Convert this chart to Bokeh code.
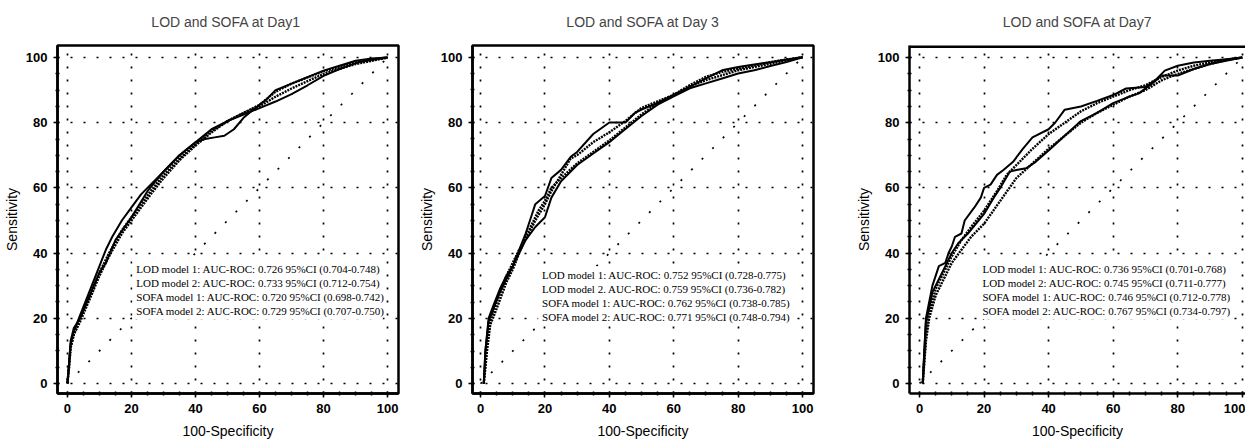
from bokeh.plotting import figure
from bokeh.layouts import row
from bokeh.models import Range1d, FixedTicker, Span
from bokeh.core.properties import value
from bokeh.embed import file_html
from bokeh.resources import INLINE

# ---------------- data ----------------
TITLES = ["LOD and SOFA at  Day1", "LOD and SOFA at Day 3", "LOD and SOFA at Day7"]
TICKS = [0, 20, 40, 60, 80, 100]
DIAG = [0, 100]

# Day 1
D1_LOD1_X = [0, 0.5, 1, 2, 4, 6, 8, 10, 12, 14, 17, 20, 23, 26, 30, 35, 40, 45, 50, 55, 60, 65, 70, 75, 80, 85, 90, 95, 100]
D1_LOD1_Y = [0, 6, 12, 16, 21, 26, 31, 36, 41, 45, 50, 54, 58, 61, 65, 70, 74, 78, 80.5, 82.5, 84.5, 86.5, 88.8, 91.5, 94.4, 96.5, 98.3, 99.5, 100]
D1_LOD2_X = [0, 0.5, 1, 2, 4, 7, 10, 12, 15, 20, 25, 30, 35, 40, 43, 46, 49, 52, 55, 58, 62, 65, 70, 75, 80, 85, 90, 95, 100]
D1_LOD2_Y = [0, 6, 13, 17, 20, 27, 34, 37, 44, 51, 59, 65, 70, 74, 75, 75.5, 76, 78, 81.5, 84, 87, 90, 92, 94, 96, 97.5, 99, 99.7, 100]
D1_SOFA1_X = [0, 0.5, 1, 2, 4, 7, 10, 13, 17, 20, 26, 30, 35, 40, 45, 50, 55, 60, 65, 70, 80, 90, 100]
D1_SOFA1_Y = [0, 5, 11, 15, 20, 27, 34, 40, 47, 51, 59, 64, 69, 73.5, 77.5, 80.5, 83, 85.5, 89.5, 92, 95.8, 98.5, 100]
D1_SOFA2_X = [0, 0.5, 1, 2, 4, 7, 10, 13, 17, 20, 26, 30, 35, 40, 45, 50, 55, 60, 65, 70, 80, 90, 100]
D1_SOFA2_Y = [0, 5, 11, 15, 19, 26, 33, 39, 46, 50, 58, 63, 68.5, 73, 77, 80.5, 83, 85, 88, 90.5, 95, 98, 100]

# Day 3
D3_LOD1_X = [1, 1.5, 2.5, 4, 6, 8, 10, 12, 14, 16, 17, 20, 22, 25, 28, 30, 35, 40, 45, 48, 50, 55, 60, 65, 70, 75, 80, 85, 90, 95, 100]
D3_LOD1_Y = [0, 10, 20, 24, 29, 33, 36, 41, 46, 52, 55, 57.5, 63, 65.5, 69.5, 71, 76.5, 80, 80, 83, 84, 86, 88.5, 91, 93.5, 96, 97, 97.8, 98.5, 99.3, 100]
D3_LOD2_X = [1, 1.5, 2.5, 4, 6, 8, 10, 12, 14, 17, 20, 22, 25, 30, 35, 40, 45, 50, 55, 60, 65, 70, 75, 80, 85, 90, 95, 100]
D3_LOD2_Y = [0, 10, 19, 23, 28, 32, 36, 40, 44, 48, 51, 57, 62, 67, 70.5, 74, 78, 82, 85.5, 88, 90.5, 92, 93.5, 95, 96, 97.3, 98.5, 100]
D3_SOFA1_X = [1, 2, 3, 5, 8, 10, 12, 14, 16, 18, 20, 22, 25, 30, 35, 40, 45, 50, 55, 60, 65, 70, 75, 80, 85, 90, 95, 100]
D3_SOFA1_Y = [0, 10, 18, 23, 31, 35, 40, 45, 49, 53, 56, 60, 63, 67.5, 71, 74.5, 78.5, 82.5, 86, 88.5, 91, 93, 94.5, 96, 97, 98, 99, 100]
D3_SOFA2_X = [1, 2, 3, 5, 8, 10, 12, 15, 17, 20, 22, 25, 28, 30, 35, 40, 45, 50, 55, 60, 65, 70, 75, 80, 85, 90, 95, 100]
D3_SOFA2_Y = [0, 12, 19, 25, 33, 37, 41, 46, 50, 55, 59, 64, 69, 70, 74, 77, 80.5, 84.5, 86.5, 88.5, 91.5, 94, 95.5, 96.5, 97.5, 98.5, 99.3, 100]

# Day 7
D7_LOD1_X = [1, 1.5, 2, 3, 4, 5, 6, 8, 9, 10, 11, 13, 14, 17, 19, 20, 22, 24, 26, 29, 32, 35, 40, 42, 45, 50, 55, 60, 64, 70, 73, 76, 80, 85, 90, 95, 100]
D7_LOD1_Y = [0, 10, 20, 25, 30, 33, 36, 37, 40, 42, 45, 46, 50, 54, 57, 60, 61, 64, 65.5, 68, 72, 75.5, 78, 80, 84, 85, 86.7, 88.5, 90.5, 91, 93, 96, 97.5, 98.5, 99, 99.5, 100]
D7_LOD2_X = [1, 1.5, 2, 3, 4, 6, 8, 10, 12, 15, 20, 23, 25, 28, 30, 33, 36, 40, 45, 50, 55, 60, 65, 68, 72, 75, 80, 85, 90, 95, 100]
D7_LOD2_Y = [0, 10, 19, 23, 28, 32, 36, 40, 43, 46, 52, 57, 60, 65, 65.5, 66, 68, 71.5, 76, 80.5, 83, 86, 88, 89, 92, 94.5, 94.5, 96.5, 98, 99, 100]
D7_SOFA1_X = [1, 2, 3, 5, 8, 10, 13, 16, 20, 24, 27, 30, 35, 40, 45, 50, 55, 60, 65, 70, 75, 80, 85, 90, 95, 100]
D7_SOFA1_Y = [0, 15, 22, 29, 35, 39, 44, 48, 53, 59, 64, 67, 72, 76.5, 80, 83.5, 86, 88, 90, 91.5, 94, 96, 97.5, 98.5, 99.3, 100]
D7_SOFA2_X = [1, 2, 3, 5, 8, 10, 13, 16, 20, 25, 30, 35, 40, 45, 50, 55, 60, 65, 70, 75, 80, 85, 90, 95, 100]
D7_SOFA2_Y = [0, 13, 20, 27, 33, 37, 41, 45, 49, 56, 63, 67.5, 72, 76, 80, 83, 85.5, 88, 90, 93, 95, 96.5, 98, 99.3, 100]

D1_TEXT = ["LOD model 1: AUC-ROC: 0.726 95%CI (0.704-0.748)",
           "LOD model 2: AUC-ROC: 0.733 95%CI (0.712-0.754)",
           "SOFA model 1: AUC-ROC: 0.720 95%CI (0.698-0.742)",
           "SOFA model 2: AUC-ROC: 0.729 95%CI (0.707-0.750)"]
D3_TEXT = ["LOD model 1: AUC-ROC: 0.752 95%CI (0.728-0.775)",
           "LOD model 2. AUC-ROC: 0.759 95%CI (0.736-0.782)",
           "SOFA model 1: AUC-ROC: 0.762 95%CI (0.738-0.785)",
           "SOFA model 2: AUC-ROC: 0.771 95%CI (0.748-0.794)"]
D7_TEXT = ["LOD model 1: AUC-ROC: 0.736 95%CI (0.701-0.768)",
           "LOD model 2: AUC-ROC: 0.745 95%CI (0.711-0.777)",
           "SOFA model 1: AUC-ROC: 0.746 95%CI (0.712-0.778)",
           "SOFA model 2: AUC-ROC: 0.767 95%CI (0.734-0.797)"]

PANELS = [
    dict(title=TITLES[0], lod=[(D1_LOD1_X, D1_LOD1_Y), (D1_LOD2_X, D1_LOD2_Y)],
         sofa=[(D1_SOFA1_X, D1_SOFA1_Y), (D1_SOFA2_X, D1_SOFA2_Y)], text=D1_TEXT,
         xr=(-3.1, 103.4), yr=(-3.1, 103.7), mb=(57, 17, 45, 51), tx=21.5, ty=35.2, tw=77, open_right=False),
    dict(title=TITLES[1], lod=[(D3_LOD1_X, D3_LOD1_Y), (D3_LOD2_X, D3_LOD2_Y)],
         sofa=[(D3_SOFA1_X, D3_SOFA1_Y), (D3_SOFA2_X, D3_SOFA2_Y)], text=D3_TEXT,
         xr=(-2.5, 103.4), yr=(-3.0, 103.6), mb=(55, 17, 45, 48), tx=19.1, ty=33.4, tw=77, open_right=False),
    dict(title=TITLES[2], lod=[(D7_LOD1_X, D7_LOD1_Y), (D7_LOD2_X, D7_LOD2_Y)],
         sofa=[(D7_SOFA1_X, D7_SOFA1_Y), (D7_SOFA2_X, D7_SOFA2_Y)], text=D7_TEXT,
         xr=(-3.1, 101.0), yr=(-3.1, 103.7), mb=(79, 0, 45, 51), tx=19.5, ty=35.2, tw=77, open_right=True),
]

SANS = "Liberation Sans"
SERIF = "Liberation Serif"
LINE_DY = 4.3

figs = []
for pan in PANELS:
    l, r, t, b = pan["mb"]
    p = figure(width=415, height=444, output_backend="svg", toolbar_location=None,
               x_range=Range1d(*pan["xr"]), y_range=Range1d(*pan["yr"]),
               min_border_left=l, min_border_right=r, min_border_top=t, min_border_bottom=b,
               title=pan["title"])
    p.title.align = "center"
    p.title.vertical_align = "top"
    p.title.text_font = SANS
    p.title.text_font_size = "14px"
    p.title.text_font_style = "normal"
    p.title.standoff = 27
    p.background_fill_color = "white"
    p.border_fill_color = "white"
    if pan["open_right"]:
        # the original is cropped at the right edge: no right-hand frame line
        p.outline_line_color = None
        p.add_layout(Span(location=pan["yr"][1], dimension="width",
                          line_color="black", line_width=5))
    else:
        p.outline_line_color = "black"
        p.outline_line_width = 2.5
        p.outline_line_alpha = 1

    xa = p.below[0]
    ya = p.left[0]
    for ax in (xa, ya):
        ax.ticker = FixedTicker(ticks=TICKS, minor_ticks=list(range(0, 101, 5)))
        ax.axis_line_width = 2.5
        ax.axis_line_color = "black"
        ax.major_tick_in = 0
        ax.major_tick_out = 4
        ax.major_tick_line_width = 1.5
        ax.minor_tick_in = 2
        ax.minor_tick_out = 2
        ax.minor_tick_line_width = 1.5
        ax.major_label_text_font = SANS
        ax.major_label_text_font_size = "13px"
        ax.major_label_text_font_style = "bold"
        ax.major_label_text_color = "black"
        ax.axis_label_text_font = SANS
        ax.axis_label_text_font_size = "14px"
        ax.axis_label_text_font_style = "normal"
        ax.axis_label_text_color = "black"
        ax.major_label_standoff = 6
    xa.axis_label = "100-Specificity"
    ya.axis_label = "Sensitivity"
    xa.axis_label_standoff = 7
    ya.axis_label_standoff = 3

    for g in (p.xgrid[0], p.ygrid[0]):
        g.ticker = FixedTicker(ticks=TICKS)
        g.grid_line_color = "black"
        g.grid_line_width = 1.7
        g.grid_line_dash = "2 11"
        g.grid_line_alpha = 1

    p.line(DIAG, DIAG, line_color="black", line_width=1.7, line_dash="2 13")

    # white box behind the AUC annotations (hides grid and diagonal, as in the original)
    n = len(pan["text"])
    box_top = pan["ty"] + 2.6
    box_bottom = pan["ty"] - (n - 1) * LINE_DY - 2.6
    p.quad(left=[pan["tx"] - 1.2], right=[pan["tx"] + pan["tw"]], top=[box_top], bottom=[box_bottom],
           fill_color="white", line_color=None)

    for xs, ys in pan["sofa"]:
        p.line(xs, ys, line_color="black", line_width=2.4, line_dash="2 1")
    for xs, ys in pan["lod"]:
        p.line(xs, ys, line_color="black", line_width=2)

    p.text(x=[pan["tx"]] * n, y=[pan["ty"] - i * LINE_DY for i in range(n)], text=pan["text"],
           text_font=value(SERIF), text_font_size="11px", text_color="black",
           text_baseline="middle", text_align="left")
    figs.append(p)

layout = row(*figs, spacing=0)
open("out.html", "w").write(file_html(layout, INLINE))
